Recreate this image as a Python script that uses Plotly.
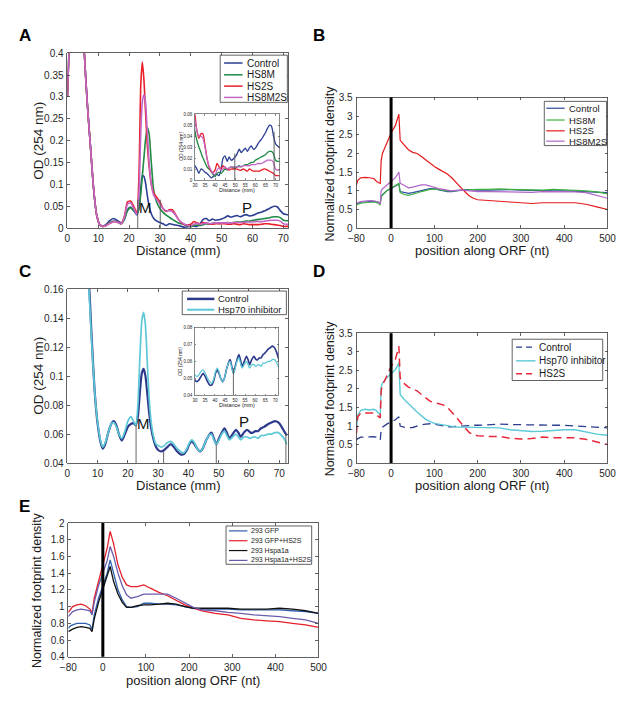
import plotly.graph_objects as go

W, H = 637, 704
FONT = "Liberation Sans, Arial, sans-serif"

# ---------------- DATA ----------------
# Panel A: OD (254 nm) vs distance (mm)
dist_a = [0, 0.5, 1, 4.8, 5.5, 6.5, 7.5, 8.5, 9.5, 10.5, 11.5, 12.5, 13.5, 15, 16.5, 17.5, 18.5, 19.5,
          20.5, 21.5, 22.5, 23.2, 23.8, 24.3, 24.8, 25.3, 25.9, 26.5, 27.2, 28, 29, 30,
          31, 32, 33, 34, 35, 36, 37, 38, 39, 40, 41, 42, 43, 44, 45, 46, 47, 48, 49, 50,
          51, 52, 53, 54, 55, 56, 57, 58, 59, 60, 61, 62, 63, 64, 65, 66, 67, 68, 69, 70, 71, 72]
a_control = [0.30, 0.40, 0.55, 0.55, 0.40, 0.28, 0.185, 0.09, 0.03, 0.008, 0.005, 0.008, 0.016, 0.022, 0.016,
             0.012, 0.022, 0.042, 0.048, 0.040, 0.030, 0.045, 0.090, 0.120, 0.118, 0.105, 0.075, 0.050,
             0.033, 0.022, 0.016, 0.013,
             0.010, 0.006, 0.010, 0.009, 0.007, 0.006, 0.004, 0.002, 0.003, 0.005, 0.005, 0.004, 0.010,
             0.020, 0.022, 0.017, 0.021, 0.018, 0.019, 0.021, 0.024, 0.028, 0.025, 0.027, 0.029, 0.026,
             0.029, 0.031, 0.028, 0.029, 0.032, 0.035, 0.037, 0.040, 0.043, 0.047, 0.050, 0.049, 0.040,
             0.033, 0.031, 0.030]
a_hs8m = [0.30, 0.40, 0.55, 0.55, 0.40, 0.28, 0.185, 0.09, 0.03, 0.008, 0.004, 0.006, 0.012, 0.016, 0.013,
          0.010, 0.020, 0.040, 0.047, 0.040, 0.035, 0.045, 0.080, 0.120, 0.160, 0.200, 0.230, 0.215,
          0.150, 0.085, 0.058, 0.045,
          0.036, 0.030, 0.025, 0.020, 0.016, 0.012, 0.010, 0.008, 0.005, 0.003, 0.006, 0.007, 0.006,
          0.008, 0.010, 0.009, 0.011, 0.012, 0.011, 0.011, 0.012, 0.013, 0.012, 0.013, 0.014, 0.014,
          0.015, 0.016, 0.016, 0.018, 0.019, 0.020, 0.021, 0.022, 0.023, 0.025, 0.026, 0.026, 0.024,
          0.018, 0.017, 0.017]
a_hs2s = [0.30, 0.40, 0.55, 0.55, 0.40, 0.28, 0.185, 0.09, 0.03, 0.008, 0.004, 0.006, 0.010, 0.015, 0.013,
          0.010, 0.028, 0.060, 0.062, 0.050, 0.035, 0.120, 0.330, 0.380, 0.340, 0.270, 0.190, 0.140,
          0.100, 0.080, 0.070, 0.060,
          0.045, 0.038, 0.042, 0.042, 0.032, 0.020, 0.012, 0.008, 0.007, 0.009, 0.015, 0.012, 0.010,
          0.013, 0.011, 0.010, 0.009, 0.010, 0.010, 0.010, 0.010, 0.009, 0.009, 0.010, 0.009, 0.008,
          0.010, 0.009, 0.008, 0.008, 0.008, 0.008, 0.009, 0.010, 0.010, 0.009, 0.008, 0.007, 0.006,
          0.004, 0.004, 0.004]
a_hs8m2s = [0.30, 0.40, 0.55, 0.55, 0.40, 0.28, 0.185, 0.09, 0.03, 0.008, 0.004, 0.006, 0.010, 0.015, 0.013,
            0.010, 0.025, 0.055, 0.058, 0.045, 0.032, 0.080, 0.220, 0.290, 0.305, 0.290, 0.220, 0.150,
            0.100, 0.075, 0.065, 0.055,
            0.045, 0.040, 0.040, 0.038, 0.030, 0.020, 0.013, 0.009, 0.006, 0.005, 0.009, 0.011, 0.009,
            0.010, 0.012, 0.010, 0.011, 0.012, 0.012, 0.012, 0.012, 0.012, 0.012, 0.013, 0.013, 0.013,
            0.013, 0.014, 0.014, 0.014, 0.015, 0.015, 0.015, 0.016, 0.017, 0.018, 0.018, 0.018, 0.016,
            0.010, 0.009, 0.009]
frac_a = [22.8, 30.1]
frac_a_top = [0.065, 0.065]
frac_a_inset = [49.8, 69.3]
frac_a_inset_top = [0.024, 0.044]

# Panel B / D: normalized footprint density vs position along ORF (nt)
pos_bd = [-80, -77, -70, -60, -50, -40, -35, -30, -25, -23, -20, -10, 0, 10, 18, 21, 30, 40, 50, 60, 70,
          80, 90, 100, 110, 120, 130, 140, 150, 160, 170, 180, 190, 200, 225, 250, 275, 300, 325, 350,
          375, 400, 425, 450, 475, 500]
b_control = [0.65, 0.67, 0.70, 0.70, 0.72, 0.72, 0.71, 0.70, 0.65, 0.85, 0.90, 1.00, 1.06, 1.12, 1.18, 0.98,
             0.95, 0.93, 0.95, 0.98, 1.02, 1.05, 1.06, 1.05, 1.02, 1.00, 0.98, 0.98, 1.00, 1.02, 1.03,
             1.03, 1.02, 1.02, 1.02, 1.03, 1.03, 1.02, 1.01, 1.00, 1.00, 1.00, 0.99, 0.98, 0.96, 0.95]
b_hs8m = [0.62, 0.64, 0.67, 0.68, 0.70, 0.70, 0.69, 0.67, 0.62, 0.83, 0.88, 1.00, 1.07, 1.13, 1.20, 0.95,
          0.90, 0.88, 0.90, 0.94, 0.98, 1.02, 1.04, 1.05, 1.03, 1.02, 1.00, 1.00, 1.01, 1.02, 1.03,
          1.04, 1.04, 1.04, 1.04, 1.05, 1.04, 1.03, 1.02, 1.02, 1.04, 1.03, 1.01, 1.00, 0.97, 0.92]
b_hs2s = [1.15, 1.28, 1.35, 1.36, 1.35, 1.33, 1.27, 1.22, 1.20, 1.80, 2.00, 2.30, 2.55, 2.75, 3.05, 2.35,
          2.22, 2.10, 2.03, 2.00, 1.92, 1.83, 1.72, 1.65, 1.58, 1.52, 1.45, 1.35, 1.22, 1.10, 0.98,
          0.87, 0.80, 0.76, 0.73, 0.72, 0.70, 0.67, 0.66, 0.68, 0.69, 0.68, 0.68, 0.64, 0.57, 0.50]
b_hs8m2s = [0.65, 0.68, 0.71, 0.73, 0.74, 0.73, 0.72, 0.70, 0.65, 1.00, 1.05, 1.15, 1.25, 1.35, 1.50, 1.20,
            1.15, 1.08, 1.10, 1.14, 1.16, 1.16, 1.12, 1.08, 1.06, 1.04, 1.02, 1.00, 1.01, 1.02, 1.01,
            1.00, 0.99, 0.98, 0.98, 0.97, 0.97, 0.95, 0.96, 0.98, 0.98, 0.97, 0.97, 0.95, 0.88, 0.80]
d_control = [0.62, 0.66, 0.70, 0.71, 0.72, 0.71, 0.70, 0.65, 0.62, 0.90, 0.97, 1.05, 1.10, 1.17, 1.25, 1.00,
             0.97, 0.95, 0.96, 1.00, 1.03, 1.05, 1.06, 1.05, 1.02, 1.00, 0.98, 0.98, 0.99, 1.01, 1.02,
             1.02, 1.02, 1.02, 1.04, 1.05, 1.04, 1.03, 1.02, 1.02, 1.02, 1.02, 1.00, 0.98, 0.95, 0.95]
d_hsp70 = [0.90, 1.30, 1.42, 1.45, 1.43, 1.45, 1.42, 1.35, 1.30, 2.05, 2.15, 2.30, 2.40, 2.52, 2.70, 1.85,
           1.72, 1.60, 1.48, 1.38, 1.28, 1.18, 1.12, 1.07, 1.05, 1.03, 1.00, 0.98, 0.97, 0.97, 0.97,
           0.97, 0.97, 0.97, 0.96, 0.95, 0.90, 0.88, 0.85, 0.86, 0.89, 0.90, 0.90, 0.84, 0.78, 0.75]
d_hs2s = [0.80, 1.25, 1.35, 1.36, 1.35, 1.35, 1.30, 1.25, 1.22, 1.95, 2.10, 2.35, 2.60, 2.80, 3.15, 2.30,
          2.15, 2.05, 2.00, 1.95, 1.85, 1.75, 1.67, 1.63, 1.60, 1.57, 1.50, 1.38, 1.25, 1.10, 0.95,
          0.83, 0.76, 0.74, 0.72, 0.72, 0.67, 0.65, 0.66, 0.70, 0.68, 0.67, 0.68, 0.64, 0.56, 0.50]

# Panel C: OD (254 nm) vs distance (mm)
dist_c = [7, 7.5, 8, 9, 10, 11, 11.7, 12.5, 13.5, 14.5, 15.3, 16.2, 17, 18, 19, 20, 21, 21.8, 22.6, 23.3,
          24, 24.6, 25.2, 25.8, 26.4, 27, 27.7, 28.5, 29.3, 30, 31, 32, 33, 34.1, 35.2, 36.3, 37.4, 38.4,
          39.5, 40.3, 41.1, 42, 42.9, 43.8, 44.7, 45.7, 46.7, 47.6, 48.4, 49.2, 50.1, 51, 51.9, 52.7,
          53.5, 54.6, 55.7, 56.5, 57.3, 58.3, 59.4, 60.5, 61.3, 62.1, 63, 64, 65, 66.4, 67.5, 68.6,
          69.7, 70.8, 71.6, 72.5]
c_control = [0.170, 0.150, 0.128, 0.090, 0.067, 0.054, 0.050, 0.053, 0.061, 0.067, 0.069, 0.066, 0.060,
             0.0555, 0.060, 0.065, 0.067, 0.0675, 0.066, 0.072, 0.090, 0.102, 0.105, 0.100, 0.088, 0.075,
             0.064, 0.056, 0.051, 0.049, 0.048, 0.049, 0.051, 0.053, 0.051, 0.048, 0.046, 0.046, 0.049,
             0.053, 0.055, 0.053, 0.050, 0.048, 0.050, 0.055, 0.059, 0.061, 0.057, 0.053, 0.057, 0.061,
             0.064, 0.061, 0.057, 0.060, 0.063, 0.061, 0.058, 0.061, 0.063, 0.061, 0.061, 0.062, 0.062,
             0.064, 0.065, 0.067, 0.068, 0.069, 0.068, 0.065, 0.062, 0.059]
c_hsp70 = [0.165, 0.145, 0.125, 0.090, 0.068, 0.055, 0.051, 0.054, 0.061, 0.067, 0.068, 0.065, 0.060,
           0.057, 0.062, 0.069, 0.072, 0.069, 0.066, 0.080, 0.115, 0.138, 0.144, 0.135, 0.110, 0.085,
           0.068, 0.058, 0.053, 0.052, 0.051, 0.052, 0.054, 0.055, 0.053, 0.050, 0.048, 0.047, 0.050,
           0.054, 0.056, 0.054, 0.050, 0.048, 0.050, 0.055, 0.059, 0.060, 0.056, 0.053, 0.056, 0.060,
           0.062, 0.059, 0.056, 0.058, 0.060, 0.058, 0.056, 0.058, 0.058, 0.057, 0.058, 0.058, 0.057,
           0.059, 0.059, 0.060, 0.060, 0.061, 0.061, 0.059, 0.057, 0.053]
frac_c = [22.7, 31.8, 49.2, 72.2]
frac_c_top = [0.066, 0.048, 0.053, 0.060]
frac_c_inset = [49.2]
frac_c_inset_top = [0.056]

# Panel E
pos_e = [-80, -75, -70, -60, -50, -40, -30, -25, -20, -10, 0, 10, 17, 25, 35, 45, 55, 65, 80, 95, 110,
         130, 150, 170, 190, 210, 230, 260, 290, 320, 350, 380, 410, 440, 470, 500]
e_gfp = [0.74, 0.77, 0.78, 0.80, 0.80, 0.80, 0.78, 0.73, 0.90, 1.10, 1.25, 1.40, 1.56, 1.40, 1.20, 1.08,
         1.00, 0.99, 1.00, 1.04, 1.04, 1.03, 1.03, 1.02, 1.00, 0.98, 0.97, 0.97, 0.97, 0.96, 0.96, 0.96,
         0.96, 0.95, 0.94, 0.92]
e_gfp_hs2s = [0.93, 0.97, 1.00, 1.02, 1.03, 1.01, 0.97, 0.92, 1.10, 1.30, 1.50, 1.70, 1.90, 1.75, 1.50,
              1.35, 1.26, 1.24, 1.24, 1.26, 1.22, 1.17, 1.13, 1.08, 1.02, 0.98, 0.95, 0.92, 0.90, 0.86,
              0.84, 0.83, 0.82, 0.80, 0.78, 0.75]
e_hspa1a = [0.70, 0.72, 0.73, 0.75, 0.76, 0.75, 0.74, 0.70, 0.85, 1.05, 1.20, 1.35, 1.48, 1.30, 1.15, 1.05,
            0.99, 0.99, 1.01, 1.02, 1.02, 1.03, 1.04, 1.03, 1.00, 0.98, 0.98, 0.98, 0.98, 0.97, 0.97,
            0.97, 0.98, 0.97, 0.95, 0.92]
e_hspa1a_hs2s = [0.88, 0.91, 0.94, 0.96, 0.97, 0.96, 0.95, 0.90, 1.05, 1.25, 1.40, 1.55, 1.72, 1.60, 1.40,
                 1.25, 1.14, 1.10, 1.12, 1.15, 1.15, 1.15, 1.15, 1.10, 1.04, 0.99, 0.96, 0.95, 0.93, 0.92,
                 0.90, 0.89, 0.88, 0.86, 0.84, 0.80]

# Tick labels
a_xticks = [0, 10, 20, 30, 40, 50, 60, 70]
a_yticks = [0, 0.05, 0.1, 0.15, 0.2, 0.25, 0.3, 0.35, 0.4]
a_yticktext = ["0", "0.05", "0.1", "0.15", "0.2", "0.25", "0.3", "0.35", "0.4"]
inset_xticks = [30, 35, 40, 45, 50, 55, 60, 65, 70]
a_inset_yticks = [0, 0.01, 0.02, 0.03, 0.04, 0.05, 0.06]
a_inset_yticktext = ["0", "0.01", "0.02", "0.03", "0.04", "0.05", "0.06"]
c_yticks = [0.04, 0.06, 0.08, 0.1, 0.12, 0.14, 0.16]
c_yticktext = ["0.04", "0.06", "0.08", "0.1", "0.12", "0.14", "0.16"]
c_inset_yticks = [0.04, 0.05, 0.06, 0.07, 0.08]
c_inset_yticktext = ["0.04", "0.05", "0.06", "0.07", "0.08"]
orf_xticks = [-80, 0, 100, 200, 300, 400, 500]
orf_xticktext = ["\u221280", "0", "100", "200", "300", "400", "500"]
bd_yticks = [0, 0.5, 1, 1.5, 2, 2.5, 3, 3.5]
bd_yticktext = ["0", "0.5", "1", "1.5", "2", "2.5", "3", "3.5"]
e_yticks = [0.4, 0.6, 0.8, 1, 1.2, 1.4, 1.6, 1.8, 2]
e_yticktext = ["0.4", "0.6", "0.8", "1", "1.2", "1.4", "1.6", "1.8", "2"]

# ---------------- STYLE ----------------
COL_A = {"Control": "#2b3e94", "HS8M": "#1f8a44", "HS2S": "#e8202a", "HS8M2S": "#c466c6"}
COL_B = {"Control": "#2b4c9b", "HS8M": "#3cb043", "HS2S": "#e41a1c", "HS8M2S": "#b266c8"}
COL_C = {"Control": "#2e3a8c", "Hsp70 inhibitor": "#5cc8d6"}
COL_D = {"Control": "#2d3c8e", "Hsp70 inhibitor": "#5cc9d6", "HS2S": "#e8283a"}
COL_E = {"293 GFP": "#2f5fad", "293 GFP+HS2S": "#e4202a", "293 Hspa1a": "#111111",
         "293 Hspa1a+HS2S": "#6a5cad"}


def fx(p):
    return p / W


def fy(p):
    return 1 - p / H


def axis(domain, rng, tickvals, ticktext=None, size=10, ticklen=3, anchor=None, lw=0.8):
    d = dict(domain=domain, range=rng, tickvals=tickvals, showline=True, linecolor="#3a3a3a",
             linewidth=lw, mirror="ticks", ticks="inside", ticklen=ticklen, tickwidth=lw,
             tickcolor="#3a3a3a", showgrid=False, zeroline=False, fixedrange=True,
             tickfont=dict(family=FONT, size=size, color="#262626"), anchor=anchor, ticklabelstandoff=1)
    if ticktext is not None:
        d["ticktext"] = ticktext
    return d


fig = go.Figure()


def add(x, y, ax, color, width, spline=True, dash=None):
    line = dict(color=color, width=width)
    if spline:
        line["shape"] = "spline"
        line["smoothing"] = 0.6
    if dash:
        line["dash"] = dash
    fig.add_trace(go.Scatter(x=x, y=y, mode="lines", line=line, showlegend=False, hoverinfo="skip",
                             xaxis="x" + ax, yaxis="y" + ax))


# Panel A main + inset
series_a = [("Control", a_control), ("HS8M", a_hs8m), ("HS2S", a_hs2s), ("HS8M2S", a_hs8m2s)]
for name, vals in series_a:
    add(dist_a, vals, "", COL_A[name], 1.6)
for name, vals in series_a:
    add(dist_a, vals, "2", COL_A[name], 1.3)

# Panel B
series_b = [("Control", b_control), ("HS8M", b_hs8m), ("HS2S", b_hs2s), ("HS8M2S", b_hs8m2s)]
for name, vals in series_b:
    add(pos_bd, vals, "3", COL_B[name], 1.2, spline=False)

# Panel C main + inset
series_c = [("Control", c_control, 2.2), ("Hsp70 inhibitor", c_hsp70, 1.7)]
for name, vals, w in series_c:
    add(dist_c, vals, "4", COL_C[name], w)
for name, vals, w in series_c:
    add(dist_c, vals, "5", COL_C[name], w * 0.75)

# Panel D
add(pos_bd, d_control, "6", COL_D["Control"], 1.3, spline=False, dash="8px,5px")
add(pos_bd, d_hsp70, "6", COL_D["Hsp70 inhibitor"], 1.4, spline=False)
add(pos_bd, d_hs2s, "6", COL_D["HS2S"], 1.5, spline=False, dash="8px,5px")

# Panel E
series_e = [("293 GFP", e_gfp), ("293 GFP+HS2S", e_gfp_hs2s), ("293 Hspa1a", e_hspa1a),
            ("293 Hspa1a+HS2S", e_hspa1a_hs2s)]
for name, vals in series_e:
    add(pos_e, vals, "7", COL_E[name], 1.3, spline=False)

layout = dict(
    width=W, height=H, autosize=False, margin=dict(l=0, r=0, t=0, b=0),
    paper_bgcolor="white", plot_bgcolor="white", showlegend=False,
    font=dict(family=FONT, color="#262626"),
    xaxis=axis([fx(61), fx(288)], [0, 71.6], a_xticks, anchor="y"),
    yaxis=axis([fy(226), fy(48)], [0, 0.4], a_yticks, a_yticktext, anchor="x"),
    xaxis2=axis([fx(192), fx(279)], [30, 72], inset_xticks, size=4.5, ticklen=1.5, anchor="y2", lw=0.6),
    yaxis2=axis([fy(177), fy(110)], [0, 0.06], a_inset_yticks, a_inset_yticktext, size=4.5, ticklen=1.5,
                anchor="x2", lw=0.6),
    xaxis3=axis([fx(358), fx(616)], [-80, 500], orf_xticks, orf_xticktext, anchor="y3"),
    yaxis3=axis([fy(226), fy(93)], [0, 3.5], bd_yticks, bd_yticktext, anchor="x3"),
    xaxis4=axis([fx(61), fx(288)], [0, 73], a_xticks, anchor="y4"),
    yaxis4=axis([fy(465), fy(288)], [0.04, 0.16], c_yticks, c_yticktext, anchor="x4"),
    xaxis5=axis([fx(192), fx(278)], [30, 71.7], inset_xticks, size=4.5, ticklen=1.5, anchor="y5", lw=0.6),
    yaxis5=axis([fy(396), fy(327)], [0.04, 0.08], c_inset_yticks, c_inset_yticktext, size=4.5, ticklen=1.5,
                anchor="x5", lw=0.6),
    xaxis6=axis([fx(358), fx(616)], [-80, 500], orf_xticks, orf_xticktext, anchor="y6"),
    yaxis6=axis([fy(465), fy(333)], [0, 3.5], bd_yticks, bd_yticktext, anchor="x6"),
    xaxis7=axis([fx(62), fx(319)], [-80, 500], orf_xticks, orf_xticktext, anchor="y7"),
    yaxis7=axis([fy(662), fy(526)], [0.4, 2], e_yticks, e_yticktext, anchor="x7"),
)
fig.update_layout(**layout)

shapes = []
anns = []

# fraction marker lines
for xs, tops, ax, base in [(frac_a, frac_a_top, "", 0), (frac_a_inset, frac_a_inset_top, "2", 0),
                           (frac_c, frac_c_top, "4", 0.04), (frac_c_inset, frac_c_inset_top, "5", 0.04)]:
    for xv, tv in zip(xs, tops):
        shapes.append(dict(type="line", xref="x" + ax, yref="y" + ax, x0=xv, x1=xv, y0=base, y1=tv,
                           line=dict(color="#555555", width=0.9)))

# start-codon lines
for ax in ["3", "6", "7"]:
    shapes.append(dict(type="line", xref="x" + ax, yref="y" + ax + " domain", x0=0, x1=0, y0=0, y1=1,
                       line=dict(color="black", width=3)))


def text(x, y, s, size, bold=False, angle=0, xanchor="center", color="#1a1a1a"):
    anns.append(dict(xref="paper", yref="paper", x=fx(x), y=fy(y), text=("<b>%s</b>" % s) if bold else s,
                     showarrow=False, textangle=angle, xanchor=xanchor, yanchor="middle",
                     font=dict(family=FONT, size=size, color=color)))


def legend(box, items, line_x, text_x, size, widths=None, dashes=None):
    x0, y0, x1, y1 = box
    shapes.append(dict(type="rect", xref="paper", yref="paper", x0=fx(x0), x1=fx(x1), y0=fy(y1), y1=fy(y0),
                       line=dict(color="#3a3a3a", width=0.8), fillcolor="white", layer="above"))
    for i, (name, col, yy) in enumerate(items):
        ln = dict(color=col, width=(widths[i] if widths else 1.5))
        if dashes and dashes[i]:
            ln["dash"] = dashes[i]
        shapes.append(dict(type="line", xref="paper", yref="paper", x0=fx(line_x[0]), x1=fx(line_x[1]),
                           y0=fy(yy), y1=fy(yy), line=ln, layer="above"))
        text(text_x, yy, name, size, xanchor="left")


legend((218, 50, 287, 98), [(n, COL_A[n], y) for n, y in zip(COL_A, [58, 70, 81.5, 93])],
       (222, 241), 243, 10)
legend((551, 97, 615, 142), [(n, COL_B[n], y) for n, y in zip(COL_B, [104, 116, 127, 137.5])],
       (553, 572), 574, 9.5, widths=[1.2] * 4)
legend((179, 290, 286, 314), [(n, COL_C[n], y) for n, y in zip(COL_C, [298, 309])],
       (184, 212), 214, 9.5, widths=[2.5, 2])
legend((518, 339, 611, 381), [(n, COL_D[n], y) for n, y in zip(COL_D, [347, 361, 374])],
       (522, 542), 544, 10, widths=[1.3, 1.4, 1.5], dashes=["6px,4px", None, "6px,4px"])
legend((224, 529, 312, 568), [(n, COL_E[n], y) for n, y in zip(COL_E, [534, 544, 554, 564])],
       (227, 246), 248, 7, widths=[1.2] * 4)

# panel letters
for s, x, y in [("A", 17, 30), ("B", 320, 30), ("C", 17, 270), ("D", 320, 270), ("E", 17, 509)]:
    text(x, y, s, 17, bold=True, color="black")

# axis titles
text(31, 137, "OD (254 nm)", 13.5, angle=-90)
text(175, 249, "Distance (mm)", 13)
text(31, 376, "OD (254 nm)", 13.5, angle=-90)
text(175, 488, "Distance (mm)", 13)
text(331, 160, "Normalized footprint density", 12.5, angle=-90)
text(487, 249, "position along ORF (nt)", 13)
text(331, 399, "Normalized footprint density", 12.5, angle=-90)
text(487, 488, "position along ORF (nt)", 13)
text(30, 594, "Normalized footprint density", 12.5, angle=-90)
text(190, 686, "position along ORF (nt)", 13)
# inset titles
text(177, 143, "OD (254 nm)", 5, angle=-90)
text(235, 187, "Distance (mm)", 5.5)
text(177, 362, "OD (254 nm)", 5, angle=-90)
text(235, 406, "Distance (mm)", 5.5)
# fraction labels
anns.append(dict(xref="x", yref="y", x=25.4, y=0.047, text="M", showarrow=False,
                 font=dict(family=FONT, size=15, color="#111")))
anns.append(dict(xref="x", yref="y", x=58.2, y=0.047, text="P", showarrow=False,
                 font=dict(family=FONT, size=15, color="#111")))
anns.append(dict(xref="x4", yref="y4", x=25.2, y=0.0675, text="M", showarrow=False,
                 font=dict(family=FONT, size=15, color="#111")))
anns.append(dict(xref="x4", yref="y4", x=58.3, y=0.0685, text="P", showarrow=False,
                 font=dict(family=FONT, size=15, color="#111")))

fig.update_layout(shapes=shapes, annotations=anns)
fig.write_html("out.html", config={"displayModeBar": False, "staticPlot": True},
               post_script="document.body.style.margin='0';document.body.style.overflow='hidden';")
